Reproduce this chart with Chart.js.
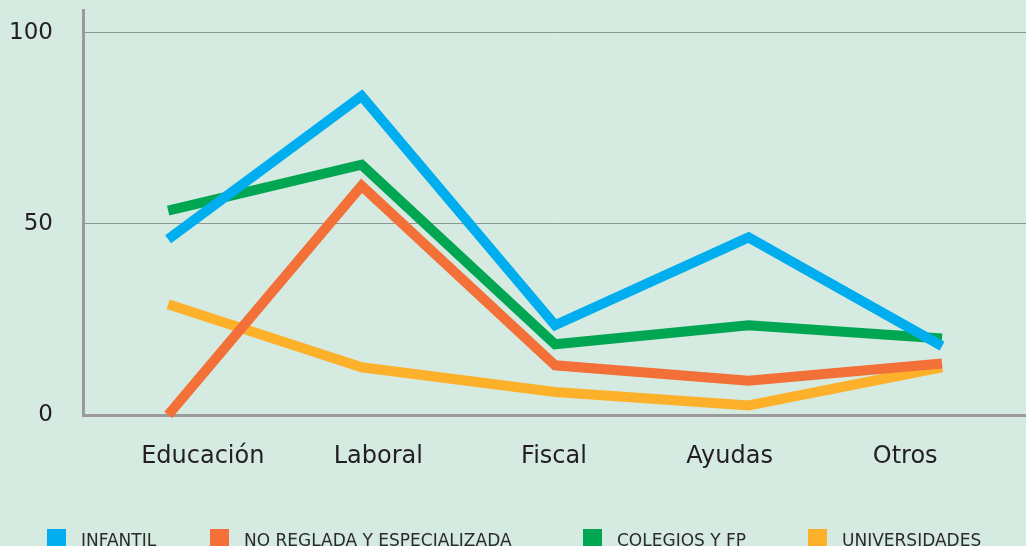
<!DOCTYPE html>
<html>
<head>
<meta charset="utf-8">
<script src="https://cdn.jsdelivr.net/npm/chart.js@4/dist/chart.umd.min.js"></script>
<style>
  html, body { margin: 0; padding: 0; background: #d5eae0; overflow: hidden; }
  #wrap { position: relative; width: 1026px; height: 546px; }
  #legend { position: absolute; left: 0; top: 0; width: 1026px; height: 546px; pointer-events: none; }
  .item { position: absolute; top: 529px; height: 19px; display: flex; align-items: flex-start; }
  .box { width: 19px; height: 19px; }
  .txt { margin-left: 15px; font-family: "DejaVu Sans", sans-serif; font-size: 17px; line-height: 19px; color: #2b2b2b; margin-top: 2px; }
</style>
</head>
<body>
<div id="wrap">
  <canvas id="chart" width="1026" height="546"></canvas>
  <div id="legend"></div>
</div>
<script>
const categories = ["Educación", "Laboral", "Fiscal", "Ayudas", "Otros"];
const seriesNames = ["INFANTIL", "NO REGLADA Y ESPECIALIZADA", "COLEGIOS Y FP", "UNIVERSIDADES"];
const infantil = [46, 83.5, 23.5, 46.5, 18];
const noReglada = [0, 60, 13, 9, 13.5];
const colegios = [53.5, 65.5, 18.5, 23.5, 20];
const universidades = [29, 12.5, 6, 2.5, 12.5];
const yTicks = [0, 50, 100];

const colors = ["#00aeef", "#f37039", "#00a651", "#fdb12a"];
const legendLeft = [47, 210, 583, 808];

function points(values) {
    return values.map((v, i) => ({ x: i, y: v }));
}

const allValues = [infantil, noReglada, colegios, universidades];

const datasets = allValues.map((vals, k) => ({
    label: seriesNames[k],
    data: points(vals),
    borderColor: colors[k],
    backgroundColor: colors[k],
    borderWidth: 10,
    pointRadius: 0,
    tension: 0,
    borderJoinStyle: "miter",
    borderCapStyle: "butt",
    clip: false,
    xAxisID: "x",
    yAxisID: "y"
}));

const ctx = document.getElementById("chart");

new Chart(ctx, {
    type: "line",
    data: { datasets: datasets },
    options: {
        responsive: false,
        animation: false,
        layout: { padding: { top: 10, right: 0, left: 0, bottom: 0 } },
        plugins: { legend: { display: false }, tooltip: { enabled: false } },
        scales: {
            x: {
                type: "linear",
                display: false,
                min: -0.44,
                max: 4.434
            },
            xl: {
                type: "linear",
                position: "bottom",
                min: -0.682,
                max: 4.688,
                afterBuildTicks: (axis) => { axis.ticks = categories.map((c, i) => ({ value: i })); },
                afterFit: (axis) => { axis.height = 131; axis.paddingLeft = 0; axis.paddingRight = 0; },
                grid: { display: false, drawTicks: false },
                border: { display: true, color: "#9a9a9a", width: 3 },
                ticks: {
                    padding: 27,
                    color: "#231f20",
                    font: { family: "DejaVu Sans", size: 24 },
                    callback: (v) => categories[v] || ""
                }
            },
            y: {
                type: "linear",
                min: 0,
                max: 106,
                afterBuildTicks: (axis) => { axis.ticks = yTicks.map(v => ({ value: v })); },
                afterFit: (axis) => { axis.width = 83; axis.paddingTop = 0; axis.paddingBottom = 0; },
                grid: { color: "#8e9691", lineWidth: 1, drawTicks: false },
                border: { display: true, color: "#9a9a9a", width: 3 },
                ticks: {
                    padding: 30,
                    color: "#231f20",
                    font: { family: "DejaVu Sans", size: 23 }
                }
            }
        }
    }
});

// legend built from the series names and colours
const legend = document.getElementById("legend");
seriesNames.forEach((name, k) => {
    const item = document.createElement("div");
    item.className = "item";
    item.style.left = legendLeft[k] + "px";
    const box = document.createElement("div");
    box.className = "box";
    box.style.background = colors[k];
    const txt = document.createElement("div");
    txt.className = "txt";
    txt.innerText = name;
    item.appendChild(box);
    item.appendChild(txt);
    legend.appendChild(item);
});
</script>
</body>
</html>
